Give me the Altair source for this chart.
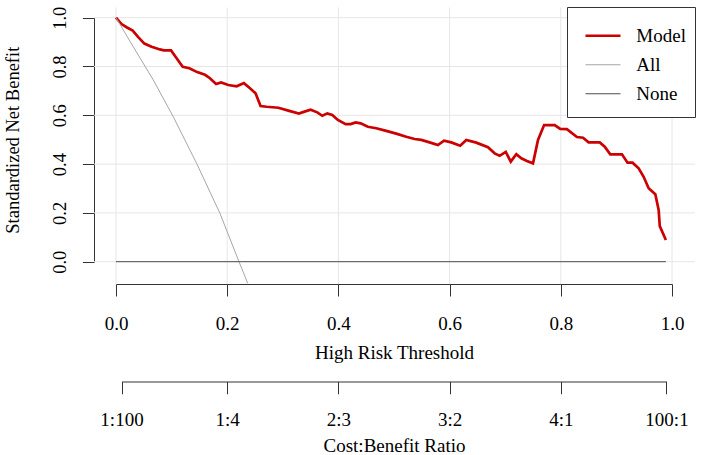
import altair as alt
import pandas as pd

# Decision curve: standardized net benefit against high-risk threshold
thresholds_model = [
    0.000, 0.010, 0.019, 0.030, 0.040, 0.051, 0.064, 0.079, 0.086, 0.099,
    0.109, 0.120, 0.132, 0.146, 0.160, 0.169, 0.180, 0.189, 0.202, 0.217,
    0.230, 0.241, 0.251, 0.260, 0.271, 0.292, 0.310, 0.329, 0.339, 0.350,
    0.362, 0.371, 0.380, 0.389, 0.399, 0.413, 0.422, 0.431, 0.440, 0.453,
    0.468, 0.486, 0.504, 0.522, 0.537, 0.549, 0.564, 0.579, 0.590, 0.603,
    0.619, 0.630, 0.648, 0.669, 0.681, 0.690, 0.701, 0.710, 0.720, 0.729,
    0.739, 0.750, 0.759, 0.770, 0.789, 0.799, 0.811, 0.829, 0.840, 0.850,
    0.870, 0.879, 0.889, 0.910, 0.920, 0.929, 0.940, 0.949, 0.958, 0.970,
    0.976, 0.978, 0.989,
]
net_benefit_model = [
    1.000, 0.974, 0.961, 0.947, 0.920, 0.894, 0.881, 0.870, 0.866, 0.866,
    0.834, 0.799, 0.793, 0.777, 0.766, 0.752, 0.728, 0.735, 0.724, 0.719,
    0.732, 0.711, 0.690, 0.638, 0.635, 0.631, 0.619, 0.607, 0.615, 0.623,
    0.612, 0.598, 0.608, 0.601, 0.581, 0.564, 0.564, 0.571, 0.567, 0.553,
    0.547, 0.536, 0.525, 0.512, 0.503, 0.499, 0.489, 0.478, 0.496, 0.489,
    0.475, 0.499, 0.488, 0.469, 0.444, 0.434, 0.450, 0.410, 0.441, 0.424,
    0.413, 0.403, 0.499, 0.560, 0.560, 0.544, 0.543, 0.511, 0.508, 0.489,
    0.489, 0.471, 0.440, 0.440, 0.406, 0.406, 0.383, 0.348, 0.301, 0.277,
    0.212, 0.146, 0.089,
]
thresholds_all = [0.000, 0.031, 0.067, 0.103, 0.145, 0.187, 0.220, 0.237]
net_benefit_all = [1.000, 0.881, 0.745, 0.594, 0.403, 0.198, 0.007, -0.089]
thresholds_none = [0.000, 0.989]
net_benefit_none = [0.000, 0.000]

series_names = ["Model", "All", "None"]
series_colors = ["#cc0000", "#a6a6a6", "#4d4d4d"]
series_widths = [2.7, 1.0, 1.0]

x_ticks = [0.0, 0.2, 0.4, 0.6, 0.8, 1.0]
y_ticks = [0.0, 0.2, 0.4, 0.6, 0.8, 1.0]
cb_positions = [1 / 101, 0.2, 0.4, 0.6, 0.8, 100 / 101]
cb_labels = ["1:100", "1:4", "2:3", "3:2", "4:1", "100:1"]

# plotting limits for net benefit, widened by 4% on each side as base R does
y_limits = [-0.05, 1.0]
y_pad = 0.04 * (y_limits[1] - y_limits[0])
y_lo, y_hi = y_limits[0] - y_pad, y_limits[1] + y_pad

frames = []
for name, ts, vs in [
    ("Model", thresholds_model, net_benefit_model),
    ("All", thresholds_all, net_benefit_all),
    ("None", thresholds_none, net_benefit_none),
]:
    frames.append(pd.DataFrame({"series": name, "t": ts, "v": vs}))
curves = pd.concat(frames, ignore_index=True)

FONT = "Liberation Serif"
W, H = 601, 276
x_range = [22, 578]            # pixel span of thresholds 0..1
y_range = [253.7, 9.7]         # pixel span of net benefit 0..1

x_scale = alt.Scale(domain=[0, 1], range=x_range, zero=False, nice=False)
y_scale = alt.Scale(domain=[0, 1], range=y_range, zero=False, nice=False)
span = x_range[1] - x_range[0]
cb_scale = alt.Scale(
    domain=[cb_positions[0], cb_positions[-1]],
    range=[x_range[0] + span * cb_positions[0], x_range[0] + span * cb_positions[-1]],
    zero=False, nice=False,
)

cb_expr = " : ".join(
    f"abs(datum.value - {p}) < 0.001 ? '{lab}'" for p, lab in zip(cb_positions, cb_labels)
) + " : ''"

axis_style = dict(
    domainColor="#333333", tickColor="#333333", domainWidth=1, tickWidth=1,
    labelColor="#000000", titleColor="#000000", labelFont=FONT, titleFont=FONT,
    titleFontWeight="normal", grid=False, labelFlush=False, labelOverlap=False,
)

x_axis = alt.Axis(
    values=x_ticks, format=".1f", title="High Risk Threshold", orient="bottom",
    tickSize=12, labelPadding=18, labelFontSize=19, titleFontSize=19,
    titlePadding=10, **axis_style,
)
cb_axis = alt.Axis(
    values=cb_positions, labelExpr=cb_expr, title="Cost:Benefit Ratio",
    orient="bottom", offset=97.5, tickSize=12.3, labelPadding=17,
    labelFontSize=19, titleFontSize=19, titlePadding=6.7, **axis_style,
)
y_axis = alt.Axis(
    values=y_ticks, format=".1f", title="Standardized Net Benefit", orient="left",
    tickSize=11.6, labelAngle=270, labelAlign="center", labelBaseline="bottom",
    labelPadding=13, labelFontSize=18.5, titleFontSize=18.5, titlePadding=28,
    **axis_style,
)

legend = alt.Legend(
    title=" ", titleFontSize=1, titlePadding=4.5,
    orient="none", legendX=473, legendY=-1,
    strokeColor="#333333", fillColor="#ffffff", padding=9,
    symbolType="stroke", symbolSize=1225, symbolOffset=8,
    labelOffset=14.3, clipHeight=28.5, rowPadding=0,
    labelFont=FONT, labelFontSize=19, labelColor="#000000",
)

grid_v = alt.Chart(pd.DataFrame({"t": x_ticks})).mark_rule(
    color="#e6e6e6", strokeWidth=1
).encode(
    x=alt.X("t:Q", scale=cb_scale, axis=cb_axis),
    y=alt.datum(y_lo, scale=y_scale),
    y2=alt.datum(y_hi),
)

grid_h = alt.Chart(pd.DataFrame({"v": y_ticks})).mark_rule(
    color="#e6e6e6", strokeWidth=1
).encode(y=alt.Y("v:Q", scale=y_scale, axis=y_axis))

lines = alt.Chart(curves).mark_line(clip=True).encode(
    x=alt.X("t:Q", scale=x_scale, axis=x_axis),
    y=alt.Y("v:Q", scale=y_scale, axis=y_axis),
    color=alt.Color("series:N", scale=alt.Scale(domain=series_names, range=series_colors),
                    legend=legend),
    strokeWidth=alt.StrokeWidth(
        "series:N",
        scale=alt.Scale(type="ordinal", domain=series_names, range=series_widths),
        legend=legend,
    ),
)

chart = alt.layer(grid_v, grid_h, lines).resolve_scale(x="independent").resolve_axis(
    x="independent"
).properties(
    width=W, height=H, autosize="none",
    padding={"left": 94, "top": 8, "right": 7, "bottom": 171},
    background="#ffffff",
).configure_view(stroke=None)

chart.save("out.html", embed_options={"renderer": "svg", "actions": False})
